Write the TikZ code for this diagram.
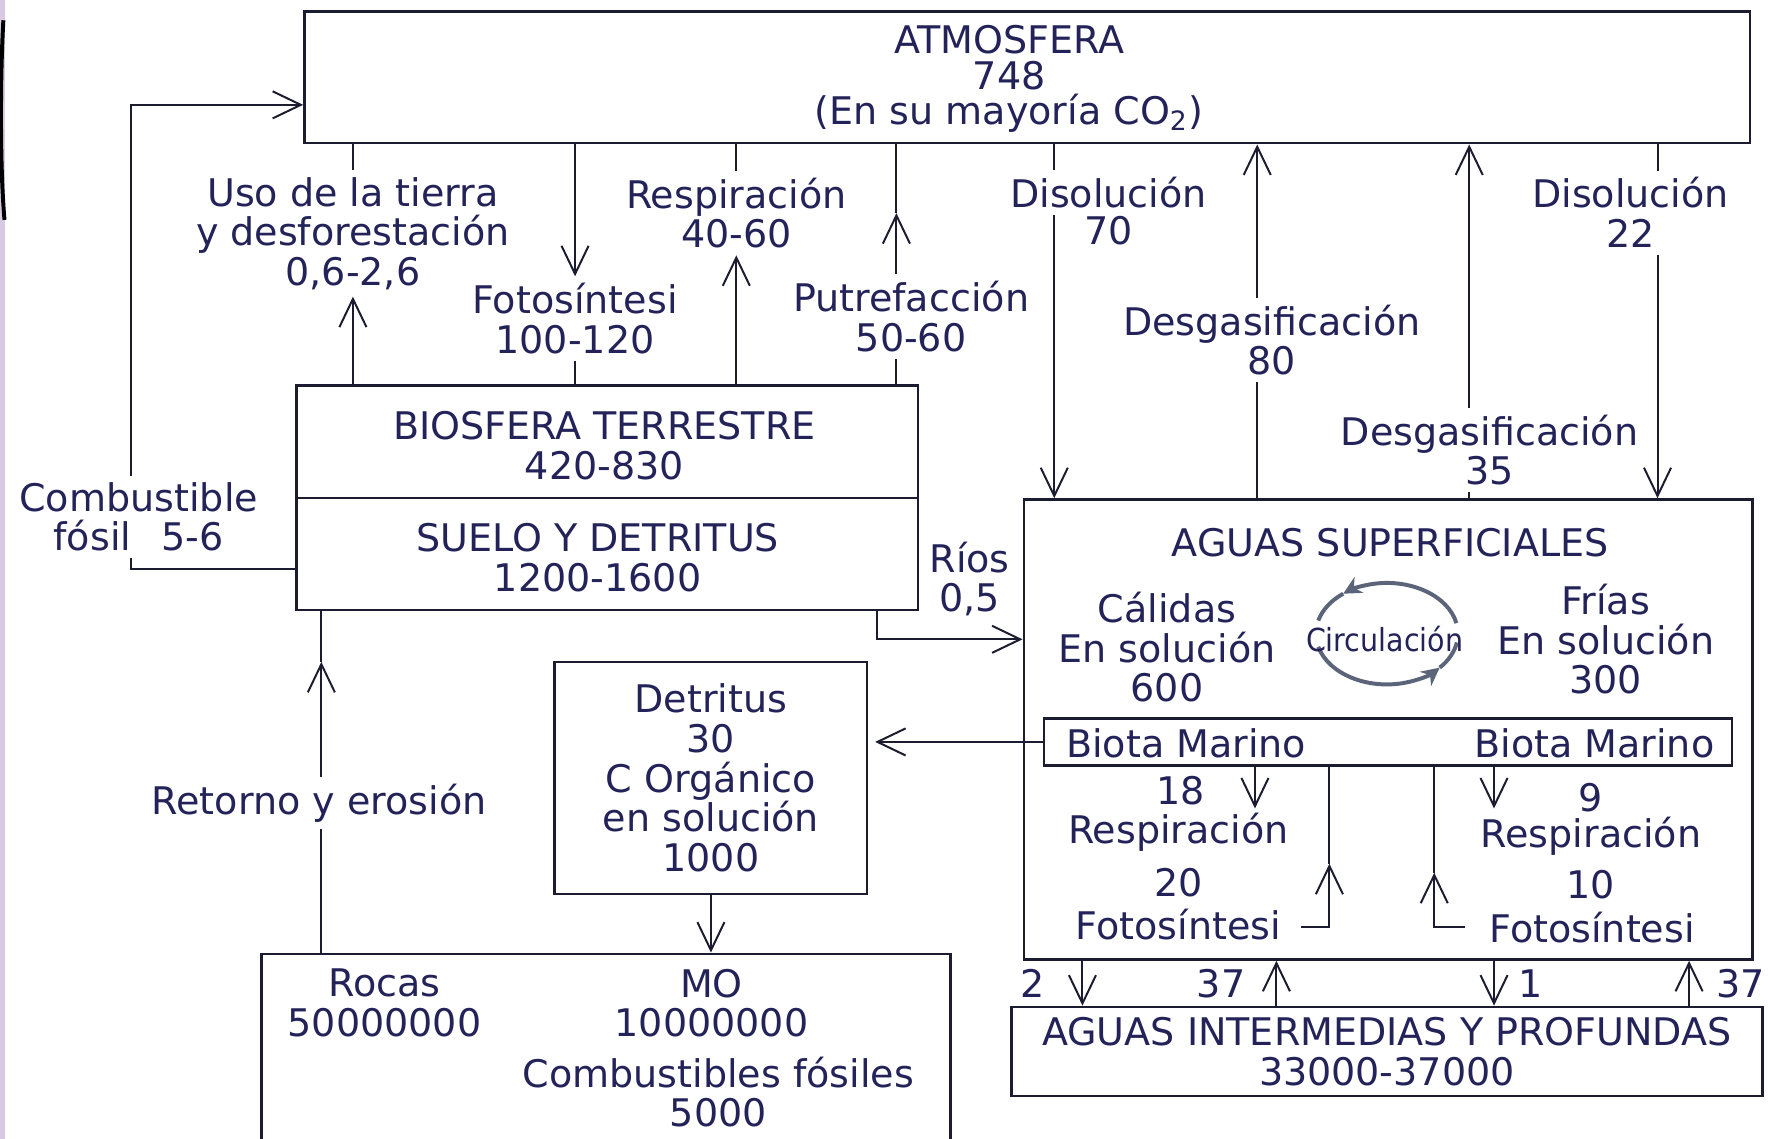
\documentclass[tikz,border=0pt]{standalone}
\usepackage{fontspec}
\setmainfont{DejaVu Sans}
\newfontfamily\circfont[FakeStretch=0.9]{DejaVu Sans}
\usetikzlibrary{arrows.meta,positioning}
\definecolor{tinta}{HTML}{23235A}
\definecolor{trazo}{HTML}{1C1C30}
\definecolor{circgris}{HTML}{5B6478}
\definecolor{lavanda}{HTML}{D9C9E2}

\begin{document}
\begin{tikzpicture}[color=trazo, line width=0.5pt,
		>={Straight Barb[length=2.5mm,width=2.4mm]},
		font=\fontsize{9.6}{10}\selectfont,
		every node/.style={text=tinta},
		caja/.style={draw=trazo, line width=0.65pt, inner sep=0pt},
		etq/.style={align=center, inner sep=1.5pt},
		circflecha/.style={draw=circgris, line width=1pt, -{Stealth[length=1.6mm,width=1.6mm]}}]
		\useasboundingbox (0,0) rectangle (15.68,10.10);
		\fill[white] (0,0) rectangle (15.68,10.10);
		\clip (0,0) rectangle (15.68,10.10);
		% borde de la diapositiva
		\fill[lavanda] (0,0) rectangle (0.045,10.10);
		\draw[black, line width=1pt] (0.03,9.92) .. controls (0.0,9.4) and (0.0,8.6) .. (0.04,8.15);
		% depositos
		\node[caja, minimum width=12.82cm, minimum height=1.17cm] (atm) at (9.11,9.415) {};
		\node[etq, font=\fontsize{9.6}{9}\selectfont] (atmtxt) at (8.95,9.40) {ATMOSFERA\\748\\(En su mayoría CO\textsubscript{2})};
		\node[caja, minimum width=5.51cm, minimum height=1.99cm] (bio) at (5.385,5.685) {};
		\draw[line width=0.65pt] (bio.west) -- (bio.east);
		\node[etq] (biotxt) at (5.36,6.145) {BIOSFERA TERRESTRE\\420-830};
		\node[etq] (suelo) at (5.30,5.155) {SUELO Y DETRITUS\\1200-1600};
		\node[caja, minimum width=6.46cm, minimum height=4.08cm] (aguas) at (12.31,3.63) {};
		\node[etq] (aguastxt) at (12.33,5.29) {AGUAS SUPERFICIALES};
		\node[etq] (calidas) at (10.35,4.36) {Cálidas\\En solución\\600};
		\node[etq] (frias) at (14.24,4.43) {Frías\\En solución\\300};
		\node[caja, minimum width=6.10cm, minimum height=0.42cm] (biota) at (12.31,3.52) {};
		\node[etq] (biotaA) at (10.52,3.51) {Biota Marino};
		\node[etq] (biotaB) at (14.14,3.51) {Biota Marino};
		\node[caja, align=center, minimum width=6.66cm, minimum height=0.79cm] (prof) at (12.30,0.775) {AGUAS INTERMEDIAS Y PROFUNDAS\\33000-37000};
		\node[caja, align=center, minimum width=2.77cm, minimum height=2.06cm] (det) at (6.305,3.20) {Detritus\\30\\C Orgánico\\en solución\\1000};
		\node[caja, minimum width=6.11cm, minimum height=2.0cm] (rocas) at (5.375,0.64) {};
		\node[etq] (rocastxt) at (3.41,1.205) {Rocas\\50000000};
		\node[etq] (mo) at (6.31,1.205) {MO\\10000000};
		\node[etq] (fosil) at (6.37,0.415) {Combustibles fósiles\\5000};
		% circulacion
		\coordinate (circ) at (12.30,4.48);
		\draw[circflecha] (circ) ++(12:0.63 and 0.45) arc[start angle=12, end angle=128, x radius=0.63, y radius=0.45];
		\draw[circgris, line width=1pt] (circ) ++(128:0.63 and 0.45) arc[start angle=128, end angle=165, x radius=0.63, y radius=0.45];
		\draw[circflecha] (circ) ++(195:0.63 and 0.45) arc[start angle=195, end angle=318, x radius=0.63, y radius=0.45];
		\draw[circgris, line width=1pt] (circ) ++(318:0.63 and 0.45) arc[start angle=318, end angle=350, x radius=0.63, y radius=0.45];
		\node[font=\circfont\fontsize{8}{8}\selectfont, inner sep=0pt] (circtxt) at (12.28,4.43) {Circulación};
		% flujos atmosfera - biosfera
		\node[etq] (uso) at (3.13,8.03) {Uso de la tierra\\y desforestación\\0,6-2,6};
		\draw[->] (bio.north -| uso) -- (uso.south);
		\draw (uso.north) -- (uso.north |- atm.south);
		\node[etq] (fot) at (5.10,7.275) {Fotosíntesi\\100-120};
		\draw[->] (atm.south -| fot) -- (fot.north);
		\draw (fot.south) -- (fot.south |- bio.north);
		\node[etq] (res) at (6.53,8.21) {Respiración\\40-60};
		\draw (atm.south -| res) -- (res.north);
		\draw[->] (bio.north -| res) -- (res.south);
		\coordinate (puttip) at (7.95,8.21);
		\node[etq] (put) at (8.08,7.295) {Putrefacción\\50-60};
		\draw (bio.north -| puttip) -- (put.south -| puttip);
		\draw[->] (put.north -| puttip) -- (puttip);
		\draw (puttip) -- (puttip |- atm.south);
		% flujos atmosfera - oceano
		\coordinate (xd70) at (9.35,0);
		\node[etq] (dis70) at (9.83,8.39) {Disolución};
		\node[etq] (dis70n) at (9.83,8.05) {70};
		\draw (atm.south -| xd70) -- (dis70.north -| xd70);
		\draw[->] (dis70.south -| xd70) -- (xd70 |- aguas.north);
		\coordinate (xd80) at (11.15,0);
		\node[etq] (des80) at (11.28,7.085) {Desgasificación\\80};
		\draw (aguas.north -| xd80) -- (des80.south -| xd80);
		\draw[->] (des80.north -| xd80) -- (xd80 |- atm.south);
		\coordinate (xd35) at (13.03,0);
		\node[etq] (des35) at (13.21,6.11) {Desgasificación\\35};
		\draw (aguas.north -| xd35) -- (des35.south -| xd35);
		\draw[->] (des35.north -| xd35) -- (xd35 |- atm.south);
		\coordinate (xd22) at (14.70,0);
		\node[etq] (dis22) at (14.46,8.215) {Disolución\\22};
		\draw (atm.south -| xd22) -- (dis22.north -| xd22);
		\draw[->] (dis22.south -| xd22) -- (xd22 |- aguas.north);
		% combustible fosil
		\coordinate (cb1) at (1.16,5.05);
		\coordinate (cb2) at (1.16,9.17);
		\node[etq] (comb) at (1.23,5.515) {Combustible\\fósil\hspace{0.8em}5-6};
		\draw (bio.west |- cb1) -- (cb1) -- (cb1 |- comb.south);
		\draw[->] (cb2 |- comb.north) -- (cb2) -- (cb2 -| atm.west);
		% rios
		\coordinate (rio) at (7.78,4.43);
		\node[etq] (rios) at (8.60,4.965) {Ríos\\0,5};
		\draw[->] (bio.south -| rio) -- (rio) -- (rio -| aguas.west);
		% retorno y erosion
		\coordinate (rettip) at (2.85,4.23);
		\node[etq] (ret) at (2.83,2.98) {Retorno y erosión};
		\draw (rocas.north -| rettip) -- (ret.south -| rettip);
		\draw[->] (ret.north -| rettip) -- (rettip);
		\draw (rettip) -- (rettip |- bio.south);
		% detritus
		\draw[->, shorten >=0.06cm] (biota.west) -- (biota.west -| det.east);
		\draw[->] (det.south) -- (det.south |- rocas.north);
		% biota marino
		\coordinate (r18) at (11.13,2.93);
		\coordinate (r9) at (13.25,2.93);
		\draw[->] (biota.south -| r18) -- (r18);
		\draw[->] (biota.south -| r9) -- (r9);
		\node[etq] (n18) at (10.47,3.09) {18};
		\node[etq] (resA) at (10.45,2.72) {Respiración};
		\node[etq] (n20) at (10.45,2.27) {20};
		\node[etq] (fotA) at (10.45,1.90) {Fotosíntesi};
		\node[etq] (n9) at (14.11,3.03) {9};
		\node[etq] (resB) at (14.11,2.68) {Respiración};
		\node[etq] (n10) at (14.11,2.25) {10};
		\node[etq] (fotB) at (14.12,1.87) {Fotosíntesi};
		\coordinate (f20a) at (11.54,1.88);
		\coordinate (f20t) at (11.79,2.44);
		\draw[->] (f20a) -| (f20t);
		\draw (f20t) -- (f20t |- biota.south);
		\coordinate (f10a) at (12.99,1.88);
		\coordinate (f10t) at (12.72,2.36);
		\draw[->] (f10a) -| (f10t);
		\draw (f10t) -- (f10t |- biota.south);
		% aguas superficiales - profundas
		\coordinate (b2) at (9.60,0);
		\coordinate (b37a) at (11.32,0);
		\coordinate (b1) at (13.25,0);
		\coordinate (b37b) at (14.98,0);
		\draw[->] (aguas.south -| b2) -- (b2 |- prof.north);
		\draw[->] (prof.north -| b37a) -- (b37a |- aguas.south);
		\draw[->] (aguas.south -| b1) -- (b1 |- prof.north);
		\draw[->] (prof.north -| b37b) -- (b37b |- aguas.south);
		\node[etq] (n2) at (9.16,1.38) {2};
		\node[etq] (n37a) at (10.83,1.38) {37};
		\node[etq] (n1) at (13.57,1.38) {1};
		\node[etq] (n37b) at (15.44,1.38) {37};
	\end{tikzpicture}
\end{document}
